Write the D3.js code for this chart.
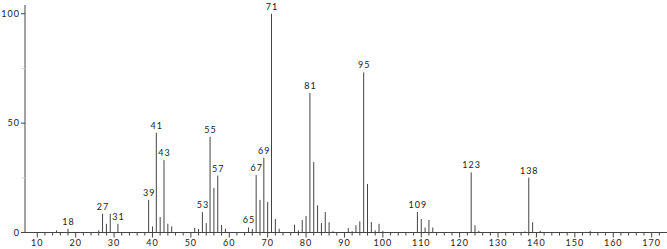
<!DOCTYPE html>
<html><head><meta charset="utf-8">
<script src="https://cdn.jsdelivr.net/npm/d3@7"></script>
<style>body{margin:0;background:#fff}svg{display:block}text{font-family:Lato,"Open Sans",sans-serif}</style>
</head><body><svg id="c" width="667" height="249"></svg>
<script>
const masses = [15,18,26,27,28,29,31,39,40,41,42,43,44,45,51,52,53,54,55,56,57,58,59,65,66,67,68,69,70,71,72,73,77,78,79,80,81,82,83,84,85,86,87,91,92,93,94,95,96,97,98,99,100,109,110,111,112,113,123,124,125,137,138,139,141,154];
const intensities = [1.0,1.7,1.0,8.6,4.0,8.6,4.0,14.9,2.8,45.6,7.1,33.1,4.0,2.8,2.1,1.6,9.3,4.3,43.8,20.4,26.0,3.4,1.7,2.3,1.6,26.3,14.9,34.2,14.0,100,6.2,1.7,3.6,1.0,5.7,7.5,63.8,32.2,12.4,4.3,9.4,4.7,0.6,2.0,0.6,3.3,5.1,73.2,22.2,4.8,1.0,4.0,0.7,9.4,6.2,2.3,5.7,2.3,27.5,3.3,0.8,0.5,25.1,4.7,0.7,0.7];
const labeledPeaks = [18,27,31,39,41,43,53,55,57,65,67,69,71,81,95,109,123,138];
const xTicks = [10,20,30,40,50,60,70,80,90,100,110,120,130,140,150,160,170];
const yTicks = [0,50,100];
const yMinorTicks = [25,75];

const svg = d3.select("#c");
const x = d3.scaleLinear().domain([6.8,174]).range([25,667]);
const y = d3.scaleLinear().domain([0,104]).range([232.5,5]);
const axisColor = "#444";

// axes lines
svg.append("line").attr("x1",x(6.8)).attr("x2",x(6.8)).attr("y1",y(0)).attr("y2",y(104)).attr("stroke",axisColor);
svg.append("line").attr("x1",x(6.8)).attr("x2",667).attr("y1",y(0)).attr("y2",y(0)).attr("stroke",axisColor);

// x ticks
const minor = d3.range(10,174,2);
svg.selectAll(".xt").data(minor).join("line")
  .attr("x1",d=>x(d)).attr("x2",d=>x(d))
  .attr("y1",y(0)).attr("y2",d=>y(0)+(d%10===0?5:3))
  .attr("stroke",axisColor);
svg.selectAll(".xl").data(xTicks).join("text")
  .attr("x",d=>x(d)).attr("y",246).attr("text-anchor","middle")
  .attr("font-size",9).attr("letter-spacing",1).attr("fill","#222").text(d=>d);

// y ticks
svg.selectAll(".yt").data(yTicks).join("line")
  .attr("x1",x(6.8)-4).attr("x2",x(6.8)).attr("y1",d=>y(d)).attr("y2",d=>y(d)).attr("stroke",axisColor);
svg.selectAll(".ym").data(yMinorTicks).join("line")
  .attr("x1",x(6.8)-3).attr("x2",x(6.8)).attr("y1",d=>y(d)).attr("y2",d=>y(d)).attr("stroke","#ccc");
svg.selectAll(".yl").data(yTicks).join("text")
  .attr("x",x(6.8)-5).attr("y",d=>y(d)+3).attr("text-anchor","end")
  .attr("font-size",9).attr("letter-spacing",1).attr("fill","#222").text(d=>d);

// peaks
const data = masses.map((m,i)=>({m, v:intensities[i]}));
svg.selectAll(".pk").data(data).join("line")
  .attr("x1",d=>x(d.m)).attr("x2",d=>x(d.m))
  .attr("y1",y(0)).attr("y2",d=>y(d.v))
  .attr("stroke","#444").attr("stroke-width",1);

// labels
svg.selectAll(".pl").data(data.filter(d=>labeledPeaks.includes(d.m))).join("text")
  .attr("x",d=>x(d.m)+0.5).attr("y",d=>y(d.v)-4).attr("text-anchor","middle")
  .attr("font-size",9).attr("letter-spacing",1).attr("fill","#222").text(d=>d.m);
</script></body></html>
